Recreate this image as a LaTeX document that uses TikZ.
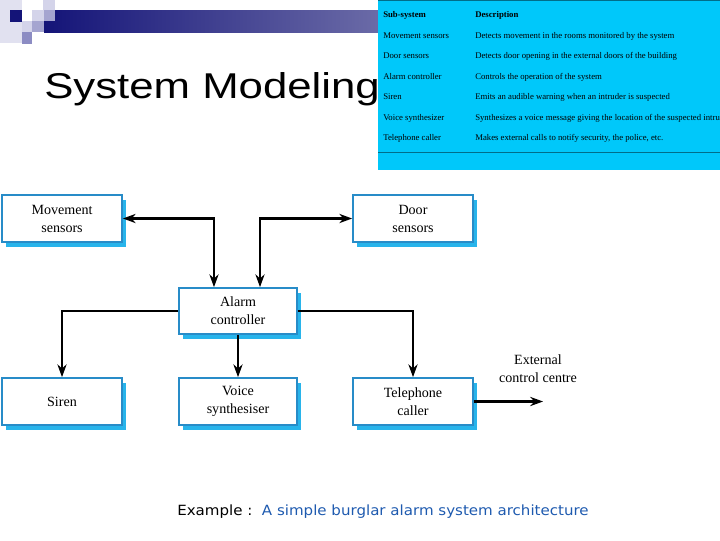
\documentclass[tikz,border=0pt]{standalone}
\usepackage{fontspec}
\setmainfont{Liberation Serif}
\newfontfamily\titlefont[FakeStretch=1.22]{Liberation Sans}
\newfontfamily\capfont[FakeStretch=1.07]{DejaVu Sans}
\usetikzlibrary{arrows.meta,positioning,shadows}

\definecolor{boxline}{RGB}{40,140,200}
\definecolor{boxshade}{RGB}{40,180,235}
\definecolor{tablecyan}{RGB}{0,200,250}
\definecolor{barnavy}{RGB}{20,20,120}
\definecolor{barpale}{RGB}{195,195,215}
\definecolor{capblue}{RGB}{30,90,175}
\definecolor{sqpale}{RGB}{225,225,240}
\definecolor{sqlight}{RGB}{212,212,234}
\definecolor{sqmid}{RGB}{165,165,208}
\definecolor{sqdeep}{RGB}{140,140,195}

\begin{document}
\begin{tikzpicture}[
  x=0.025cm, y=-0.025cm,
  >={Stealth[length=3.2mm,width=2.3mm]},
  comp/.style={draw=boxline,line width=1.2pt,fill=white,align=center,
               minimum width=3cm,minimum height=1.175cm,inner sep=1pt,
               font=\fontsize{10}{12.8}\selectfont,
               general shadow={fill=boxshade,shadow xshift=1.1mm,shadow yshift=-1.3mm}},
  link/.style={line width=1.5pt},
  cell/.style={anchor=west,inner sep=0pt,font=\fontsize{6.2}{7}\selectfont},
  sq/.style={fill=#1,draw=none},
]
\useasboundingbox (0,0) rectangle (720,540);

% --- slide decoration: squares and shaded bar ---
\fill[left color=barnavy,right color=barpale] (44,10) rectangle (720,32);
\fill[sq=sqpale]  (0,0) rectangle (22,43);
\fill[sq=barnavy] (10,10) rectangle (22,22);
\fill[sq=sqlight] (43,0) rectangle (55,10);
\fill[sq=sqlight] (32,10) rectangle (44,21);
\fill[sq=sqmid]   (44,10) rectangle (55,21);
\fill[sq=sqlight] (22,21) rectangle (32,32);
\fill[sq=sqmid]   (32,21) rectangle (44,32);
\fill[sq=sqdeep]  (22,32) rectangle (32,44);

\node[anchor=base west,inner sep=0pt,font=\titlefont\fontsize{25.5}{30}\selectfont]
  (title) at (44,98) {System Modeling};

% --- sub-system table ---
\begin{scope}
\clip (378,0) rectangle (720,170);
\fill[tablecyan] (378,0) rectangle (720,170);
\draw[black!45!tablecyan,line width=0.6pt] (378,0.5) -- (720,0.5);
\draw[black!45!tablecyan,line width=0.6pt] (378,152) -- (720,152);
\node[cell,font=\fontsize{6.2}{7}\selectfont\bfseries] (hsub)  at (383,15) {Sub-system};
\node[cell,font=\fontsize{6.2}{7}\selectfont\bfseries] (hdesc) at (475,15) {Description};
\foreach \y/\sub/\desc [count=\i] in {
  36/Movement sensors/Detects movement in the rooms monitored by the system,
  56/Door sensors/Detects door opening in the external doors of the building,
  77/Alarm controller/Controls the operation of the system,
  97/Siren/Emits an audible warning when an intruder is suspected,
  118/Voice synthesizer/Synthesizes a voice message giving the location of the suspected intruder,
  138/Telephone caller/{Makes external calls to notify security, the police, etc.}}
{
  \node[cell] (sub\i)  at (383,\y) {\sub};
  \node[cell] (desc\i) at (475,\y) {\desc};
}
\end{scope}

% --- components ---
\node[comp] (move)  at (62,218.5)  {Movement\\sensors};
\node[comp] (door)  at (413,218.5) {Door\\sensors};
\node[comp,minimum width=2.95cm,minimum height=1.15cm] (alarm) at (238,311) {Alarm\\controller};
\node[comp] (siren) at (62,401.5)  {Siren};
\node[comp,minimum width=2.95cm] (voice) at (238,401.5) {Voice\\synthesiser};
\node[comp] (phone) at (413,401.5) {Telephone\\caller};
\node[align=center,font=\fontsize{10}{12.8}\selectfont] (ext) at (538,369) {External\\control centre};
\coordinate (extin) at (543,401.5);

% --- connectors ---
\draw[link,<->] (move.east) -| ([xshift=-6mm]alarm.north);
\draw[link,<->] ([xshift=5.5mm]alarm.north) |- (door.west);
\draw[link,->] (alarm.west) -| (siren.north);
\draw[link,->] (alarm.south) -- (voice.north);
\draw[link,->] (alarm.east) -| (phone.north);
\draw[link,->] (phone.east) -- (extin);

% --- caption ---
\node[anchor=base west,inner sep=0pt,font=\capfont\fontsize{10}{12}\selectfont]
  (cap) at (177,515) {Example :\ \ \textcolor{capblue}{A simple burglar alarm system architecture}};

\end{tikzpicture}
\end{document}
